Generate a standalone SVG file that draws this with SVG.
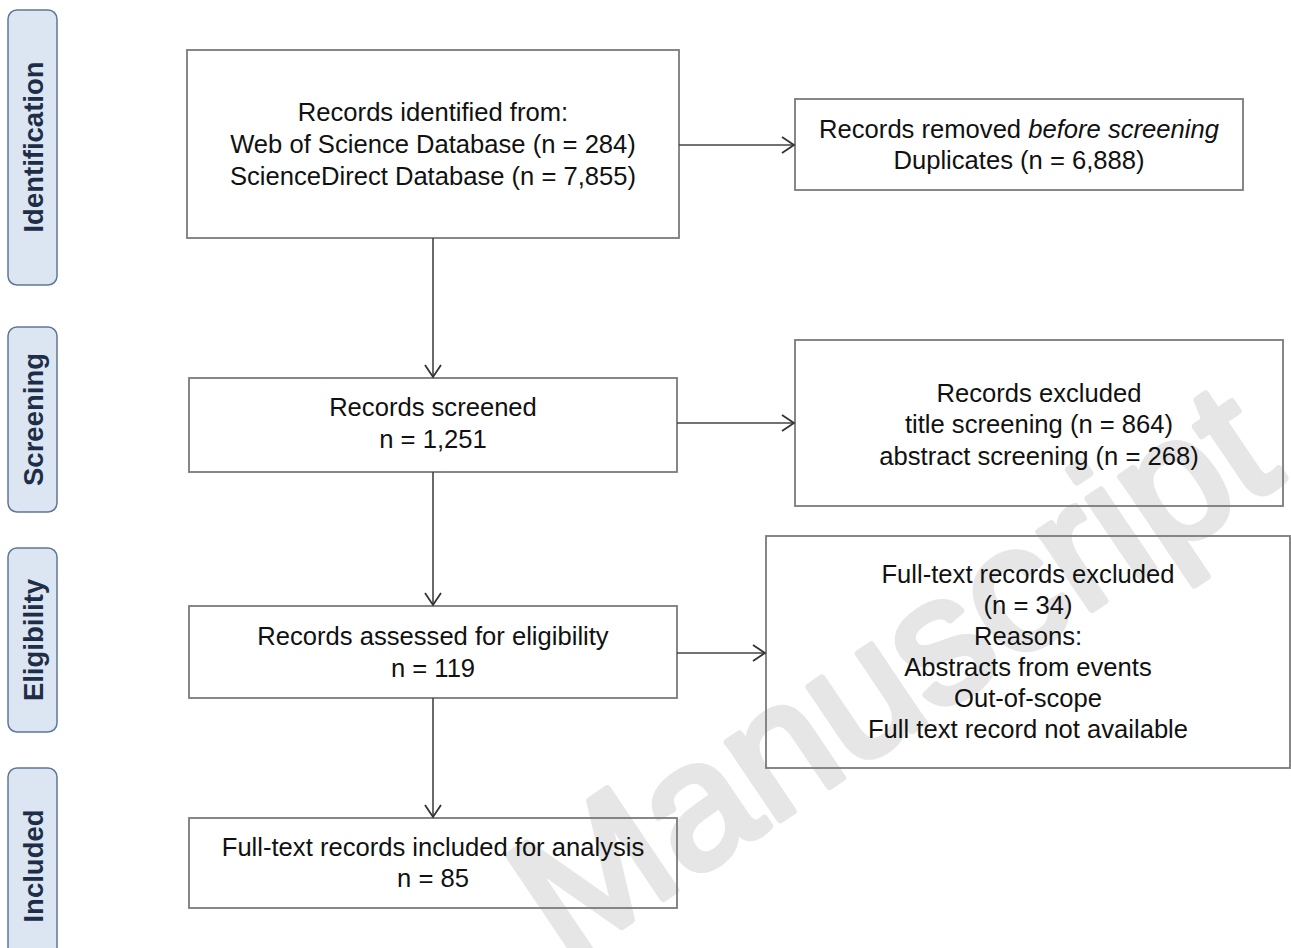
<svg xmlns="http://www.w3.org/2000/svg" width="1291" height="948" viewBox="0 0 1291 948">
<style>
  .box { fill: none; stroke: #7a7a7a; stroke-width: 1.8; }
  .t { font-family: "Liberation Sans", Arial, sans-serif; font-size: 25.6px; fill: #111; text-anchor: middle; }
  .lab { fill: #dce6f2; stroke: #5f7796; stroke-width: 1.5; }
  .labt { font-family: "Liberation Sans", Arial, sans-serif; font-size: 27.5px; font-weight: bold; fill: #1f2e48; text-anchor: middle; }
  .con { fill: none; stroke: #444; stroke-width: 1.6; marker-end: url(#arr); }
  .wm { font-family: "Liberation Sans", Arial, sans-serif; font-size: 178px; fill: #e6e6e6; stroke: #e6e6e6; stroke-width: 7; stroke-linejoin: round; }
</style>
<defs>
  <marker id="arr" markerUnits="userSpaceOnUse" markerWidth="16" markerHeight="20" viewBox="-14 -10 16 20" refX="0" refY="0" orient="auto">
    <path d="M-12,-8 L0,0 L-12,8" fill="none" stroke="#333" stroke-width="1.8"/>
  </marker>
</defs>
<rect x="0" y="0" width="1291" height="948" fill="#fff"/>
<g id="watermark">
  <text class="wm" transform="translate(565,965) rotate(-34)">Manuscript</text>
</g>
<g id="lab-identification">
  <rect class="lab" x="8" y="10" width="49" height="275" rx="9"/>
  <text class="labt" transform="translate(43,147) rotate(-90)">Identification</text>
</g>
<g id="lab-screening">
  <rect class="lab" x="8" y="327" width="49" height="185" rx="9"/>
  <text class="labt" transform="translate(43,419.5) rotate(-90)">Screening</text>
</g>
<g id="lab-eligibility">
  <rect class="lab" x="8" y="548" width="49" height="184" rx="9"/>
  <text class="labt" transform="translate(43,640) rotate(-90)">Eligibility</text>
</g>
<g id="lab-included">
  <rect class="lab" x="8" y="768" width="49" height="200" rx="9"/>
  <text class="labt" transform="translate(43,866) rotate(-90)">Included</text>
</g>
<g id="identified">
  <rect class="box" x="187" y="50" width="492" height="188"/>
  <text class="t" x="433" y="121">Records identified from:</text>
  <text class="t" x="433" y="153">Web of Science Database (n = 284)</text>
  <text class="t" x="433" y="185">ScienceDirect Database (n = 7,855)</text>
</g>
<g id="removed">
  <rect class="box" x="795" y="99" width="448" height="91"/>
  <text class="t" x="1019" y="138">Records removed <tspan font-style="italic">before screening</tspan></text>
  <text class="t" x="1019" y="169">Duplicates (n = 6,888)</text>
</g>
<g id="screened">
  <rect class="box" x="189" y="378" width="488" height="94"/>
  <text class="t" x="433" y="416">Records screened</text>
  <text class="t" x="433" y="448">n = 1,251</text>
</g>
<g id="excluded">
  <rect class="box" x="795" y="340" width="488" height="166"/>
  <text class="t" x="1039" y="402">Records excluded</text>
  <text class="t" x="1039" y="433">title screening (n = 864)</text>
  <text class="t" x="1039" y="465">abstract screening (n = 268)</text>
</g>
<g id="assessed">
  <rect class="box" x="189" y="606" width="488" height="92"/>
  <text class="t" x="433" y="645">Records assessed for eligibility</text>
  <text class="t" x="433" y="677">n = 119</text>
</g>
<g id="fulltext-excluded">
  <rect class="box" x="766" y="536" width="524" height="232"/>
  <text class="t" x="1028" y="583">Full-text records excluded</text>
  <text class="t" x="1028" y="614">(n = 34)</text>
  <text class="t" x="1028" y="645">Reasons:</text>
  <text class="t" x="1028" y="676">Abstracts from events</text>
  <text class="t" x="1028" y="707">Out-of-scope</text>
  <text class="t" x="1028" y="738">Full text record not available</text>
</g>
<g id="included">
  <rect class="box" x="189" y="818" width="488" height="90"/>
  <text class="t" x="433" y="856">Full-text records included for analysis</text>
  <text class="t" x="433" y="887">n = 85</text>
</g>
<g id="connectors">
  <line class="con" x1="433" y1="238" x2="433" y2="377"/>
  <line class="con" x1="433" y1="472" x2="433" y2="605"/>
  <line class="con" x1="433" y1="698" x2="433" y2="817"/>
  <line class="con" x1="679" y1="145" x2="794" y2="145"/>
  <line class="con" x1="677" y1="423" x2="794" y2="423"/>
  <line class="con" x1="677" y1="653" x2="765" y2="653"/>
</g>
</svg>
